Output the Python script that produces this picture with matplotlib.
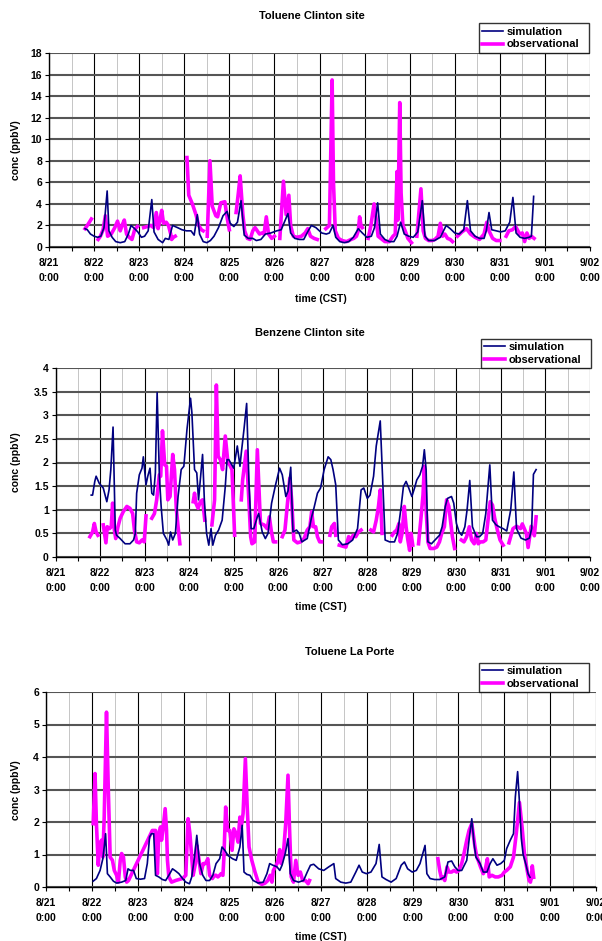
import numpy as np
import matplotlib
matplotlib.use("Agg")
import matplotlib.pyplot as plt
from matplotlib.ticker import MultipleLocator, FixedLocator

nan = np.nan

# ---------------- data (time in days since 8/21 0:00 CST) ----------------
day_labels = ["8/21\n0:00", "8/22\n0:00", "8/23\n0:00", "8/24\n0:00", "8/25\n0:00",
              "8/26\n0:00", "8/27\n0:00", "8/28\n0:00", "8/29\n0:00", "8/30\n0:00",
              "8/31\n0:00", "9/01\n0:00", "9/02\n0:00"]

# Toluene Clinton site
tol_cl_sim_t = [0.80, 0.85, 0.92, 1.00, 1.08, 1.15, 1.22, 1.29, 1.33, 1.40, 1.48, 1.58, 1.68, 1.76,
                1.82, 1.90, 1.97, 2.05, 2.12, 2.20, 2.28, 2.33, 2.42, 2.52, 2.58, 2.66, 2.74, 2.85,
                2.95, 3.05, 3.15, 3.22, 3.29, 3.34, 3.42, 3.50, 3.58, 3.66, 3.76, 3.86, 3.95, 4.02,
                4.10, 4.18, 4.26, 4.33, 4.42, 4.52, 4.60, 4.70, 4.80, 4.92, 5.05, 5.15, 5.22, 5.30,
                5.36, 5.45, 5.55, 5.65, 5.75, 5.82, 5.92, 6.05, 6.15, 6.22, 6.30, 6.36, 6.45, 6.55,
                6.65, 6.75, 6.86, 6.95, 7.05, 7.15, 7.22, 7.29, 7.35, 7.45, 7.55, 7.65, 7.72, 7.80,
                7.88, 7.98, 8.08, 8.18, 8.28, 8.34, 8.42, 8.55, 8.68, 8.81, 8.90, 9.00, 9.10, 9.20,
                9.28, 9.35, 9.45, 9.55, 9.65, 9.70, 9.76, 9.82, 9.92, 10.02, 10.12, 10.22, 10.29,
                10.36, 10.45, 10.55, 10.65, 10.70, 10.75]
tol_cl_sim_v = [1.7, 1.6, 1.2, 1.0, 0.9, 1.0, 1.8, 5.2, 1.5, 0.9, 0.5, 0.4, 0.5, 1.2,
                2.0, 1.7, 1.4, 0.9, 1.0, 1.5, 4.4, 1.4, 0.7, 0.4, 0.8, 0.7, 2.0, 1.8,
                1.6, 1.5, 1.5, 1.1, 3.0, 1.2, 0.5, 0.4, 0.6, 1.0, 1.8, 2.9, 3.3, 2.2,
                1.9, 2.3, 4.3, 1.1, 0.8, 0.8, 0.6, 0.7, 1.2, 1.3, 1.5, 1.6, 2.3, 3.1,
                1.3, 0.8, 0.7, 0.7, 1.5, 2.0, 1.8, 1.3, 1.2, 1.3, 2.0, 0.9, 0.5, 0.4,
                0.5, 0.9, 1.7, 1.3, 0.9, 1.0, 1.8, 4.1, 1.2, 0.7, 0.5, 0.5, 1.0, 2.3,
                1.2, 1.0, 0.9, 1.4, 4.3, 1.0, 0.6, 0.6, 0.9, 2.0, 1.7, 1.3, 1.2, 1.6,
                4.3, 1.5, 1.0, 0.8, 0.8, 1.5, 3.2, 1.6, 1.5, 1.4, 1.5, 2.3, 4.6,
                1.3, 0.9, 0.8, 0.9, 1.0, 4.7]
tol_cl_obs_t = [0.80, 0.85, 0.94, nan,
                1.09, 1.14, 1.20, 1.25, 1.30, 1.38, 1.46, 1.52, 1.58, 1.62, 1.67, 1.72, 1.78, 1.84,
                1.90, 1.96, nan,
                2.10, 2.18, 2.26, 2.32, 2.38, 2.42, 2.46, 2.50, 2.54, 2.60, 2.65, 2.70, 2.72, 2.76,
                2.80, nan,
                3.06, 3.10, 3.18, 3.26, 3.32, 3.38, 3.42, nan,
                3.51, 3.57, 3.62, 3.70, 3.74, 3.81, 3.90, 3.96, 4.00, nan,
                4.15, 4.20, 4.24, 4.30, 4.34, 4.40, 4.46, 4.52, 4.57, 4.62, 4.67, 4.72, 4.77, 4.82,
                4.87, 4.94, 5.00, nan,
                5.12, 5.20, 5.26, 5.32, 5.36, 5.42, 5.50, 5.60, 5.68, 5.74, 5.80, 5.88, 5.95, nan,
                6.14, 6.22, 6.28, 6.31, 6.35, 6.42, 6.50, 6.60, 6.70, 6.76, 6.82, 6.86, 6.89, 6.92,
                6.95, nan,
                7.08, 7.14, 7.21, 7.26, 7.30, 7.36, 7.45, 7.55, 7.63, 7.68, 7.72, 7.74, 7.78, 7.81,
                7.85, 7.90, 7.96, 8.04, nan,
                8.16, 8.25, 8.30, 8.35, 8.42, 8.50, 8.56, 8.63, 8.68, 8.73, 8.78, 8.84, 8.90, 8.95,
                nan,
                9.06, 9.16, 9.26, 9.35, 9.45, 9.55, 9.65, 9.71, 9.76, 9.84, 9.92, 10.00, nan,
                10.14, 10.20, 10.28, 10.35, 10.44, 10.50, 10.55, 10.60, 10.65, 10.70, 10.76]
tol_cl_obs_v = [1.7, 2.0, 2.6, nan,
                0.7, 1.0, 1.6, 2.9, 1.0, 1.2, 1.8, 2.4, 1.5, 2.0, 2.5, 1.2, 0.9, 0.7,
                1.6, 1.9, nan,
                1.8, 1.9, 2.0, 1.8, 3.2, 1.7, 2.5, 3.4, 2.2, 2.3, 2.0, 1.2, 0.7, 0.9,
                1.0, nan,
                8.3, 4.8, 4.0, 3.0, 2.0, 1.6, 1.5, nan,
                1.0, 8.0, 3.8, 2.9, 2.8, 4.1, 4.2, 2.5, 1.6, nan,
                3.2, 5.0, 6.6, 3.0, 1.5, 0.8, 0.7, 1.5, 1.8, 1.5, 1.2, 1.3, 1.2, 2.8,
                1.2, 0.8, 1.0, nan,
                0.8, 6.1, 3.0, 4.8, 2.0, 1.0, 0.9, 1.0, 1.3, 1.7, 1.0, 0.8, 0.7, nan,
                1.7, 2.0, 15.5, 6.0, 1.5, 0.8, 0.6, 0.5, 0.7, 0.8, 1.0, 1.5, 2.8, 2.0,
                1.8, nan,
                0.8, 2.0, 4.0, 2.5, 1.0, 0.8, 0.5, 0.5, 1.0, 1.2, 7.0, 2.5, 13.4, 5.0,
                2.0, 1.5, 0.8, 0.4, nan,
                1.0, 5.4, 1.5, 0.8, 0.6, 0.6, 0.7, 1.0, 2.2, 1.0, 1.2, 0.8, 0.7, 0.5,
                nan,
                1.0, 1.4, 1.7, 1.2, 0.9, 0.7, 1.2, 2.3, 1.5, 0.8, 0.6, 0.6, nan,
                1.0, 1.5, 1.6, 1.9, 1.2, 1.3, 0.5, 1.3, 0.8, 1.0, 0.8]

# Benzene Clinton site
benz_sim_t = [0.80, 0.83, 0.88, 0.91, 0.98, 1.07, 1.15, 1.20, 1.24, 1.29, 1.34, 1.37, 1.45, 1.56,
              1.67, 1.75, 1.79, 1.82, 1.88, 1.94, 1.97, 2.03, 2.07, 2.12, 2.16, 2.20, 2.24, 2.28,
              2.33, 2.37, 2.42, 2.50, 2.54, 2.58, 2.63, 2.69, 2.75, 2.82, 2.88, 2.95, 3.03, 3.06,
              3.12, 3.17, 3.21, 3.25, 3.30, 3.34, 3.39, 3.44, 3.49, 3.53, 3.59, 3.66, 3.74, 3.81,
              3.85, 3.89, 4.00, 4.08, 4.14, 4.17, 4.23, 4.29, 4.34, 4.39, 4.45, 4.53, 4.56, 4.64,
              4.71, 4.77, 4.85, 4.94, 5.03, 5.09, 5.17, 5.22, 5.28, 5.33, 5.41, 5.47, 5.53, 5.65,
              5.75, 5.80, 5.88, 5.95, 6.03, 6.12, 6.18, 6.23, 6.29, 6.35, 6.44, 6.56, 6.67, 6.78,
              6.86, 6.92, 7.00, 7.06, 7.14, 7.20, 7.29, 7.35, 7.40, 7.50, 7.61, 7.68, 7.76, 7.81,
              7.87, 7.93, 8.00, 8.06, 8.11, 8.18, 8.24, 8.28, 8.32, 8.36, 8.44, 8.55, 8.62, 8.68,
              8.75, 8.80, 8.89, 8.94, 9.00, 9.06, 9.12, 9.19, 9.24, 9.30, 9.36, 9.45, 9.52, 9.59,
              9.66, 9.75, 9.81, 9.89, 9.96, 10.05, 10.13, 10.22, 10.29, 10.35, 10.45, 10.55,
              10.64, 10.69, 10.73, 10.79]
benz_sim_v = [1.31, 1.31, 1.60, 1.71, 1.56, 1.46, 1.17, 1.42, 1.85, 2.75, 0.57, 0.46, 0.39, 0.28,
              0.28, 0.36, 0.50, 1.35, 1.74, 1.88, 2.12, 1.53, 1.71, 1.88, 1.35, 1.31, 1.78, 3.48,
              1.71, 1.07, 0.50, 0.36, 0.25, 0.53, 0.36, 0.50, 1.28, 1.85, 1.92, 2.70, 3.36, 3.06,
              1.85, 1.78, 1.21, 1.63, 2.17, 1.21, 0.50, 0.25, 0.60, 0.25, 0.46, 0.57, 0.78, 1.49,
              2.06, 2.06, 1.88, 2.35, 1.92, 2.20, 2.70, 3.25, 1.63, 0.60, 0.60, 0.85, 0.92, 0.53,
              0.39, 0.50, 1.14, 1.53, 1.88, 1.74, 1.28, 1.40, 1.90, 0.53, 0.57, 0.50, 0.32, 0.39,
              0.85, 1.03, 1.35, 1.46, 1.85, 2.12, 2.06, 1.85, 1.53, 0.36, 0.26, 0.28, 0.36, 0.60,
              1.42, 1.46, 1.24, 1.31, 1.71, 2.35, 2.88, 1.53, 0.36, 0.32, 0.32, 0.50, 1.07, 1.49,
              1.60, 1.46, 1.28, 1.46, 1.63, 1.74, 1.92, 2.27, 1.85, 0.32, 0.28, 0.39, 0.46, 0.64,
              1.07, 1.24, 1.28, 1.14, 0.71, 0.53, 0.46, 0.64, 1.00, 1.62, 0.64, 0.43, 0.43, 0.50,
              0.92, 1.95, 0.78, 0.68, 0.64, 0.60, 0.55, 1.00, 1.80, 0.60, 0.40, 0.36,
              0.40, 0.60, 1.75, 1.85]
benz_obs_t = [0.77, 0.83, 0.87, 0.91, 0.95, nan,
              1.07, 1.13, 1.16, 1.21, 1.25, 1.28, 1.32, 1.35, 1.40, 1.45, 1.52, 1.60, 1.67, 1.73,
              1.77, 1.82, 1.88, 1.94, 1.99, 2.03, nan,
              2.16, 2.22, 2.27, 2.33, 2.36, 2.40, 2.45, 2.49, 2.52, 2.57, 2.60, 2.63, 2.67, 2.71,
              2.75, 2.79, nan,
              3.09, 3.12, 3.15, 3.20, 3.25, 3.30, 3.35, nan,
              3.51, 3.57, 3.61, 3.65, 3.70, 3.75, 3.81, 3.87, 3.91, 3.96, 4.02, nan,
              4.17, 4.20, 4.28, 4.34, 4.38, 4.41, 4.47, 4.53, 4.60, 4.68, 4.75, 4.80, 4.84, 4.89,
              4.94, nan,
              5.09, 5.15, 5.20, 5.26, 5.30, 5.35, 5.43, 5.50, 5.58, 5.65, 5.71, 5.75, 5.79, 5.84,
              5.88, 5.93, 5.97, nan,
              6.16, 6.20, 6.26, 6.29, nan,
              6.37, 6.44, 6.52, 6.58, 6.63, 6.68, 6.74, 6.80, 6.86, nan,
              7.08, 7.14, 7.20, 7.25, 7.29, 7.33, nan,
              7.56, 7.61, 7.66, 7.71, 7.74, 7.78, 7.83, 7.87, 7.91, 7.95, 7.98, 8.02, nan,
              8.15, 8.20, 8.25, 8.28, 8.32, 8.36, 8.41, 8.49, 8.56, 8.62, 8.67, 8.73, 8.78, 8.83,
              8.87, 8.91, 8.96, nan,
              9.11, 9.17, 9.23, 9.29, 9.34, 9.40, 9.45, 9.49, 9.54, 9.60, 9.66, 9.71, 9.76, 9.81,
              9.86, 9.92, 9.98, 10.05, nan,
              10.18, 10.27, 10.35, 10.44, 10.48, 10.57, 10.61, 10.68, 10.75, 10.79]
benz_obs_v = [0.43, 0.53, 0.71, 0.53, 0.46, nan,
              0.68, 0.30, 0.64, 0.60, 0.64, 1.14, 0.57, 0.39, 0.64, 0.82, 0.96, 1.07, 1.03, 0.92,
              0.57, 0.32, 0.30, 0.36, 0.32, 0.87, nan,
              0.82, 0.92, 1.21, 1.74, 1.71, 2.67, 1.95, 1.92, 1.21, 1.28, 1.71, 2.17, 1.85, 1.03,
              0.64, 0.28, nan,
              1.17, 1.35, 1.14, 1.03, 1.17, 1.21, 0.78, nan,
              0.68, 1.21, 3.64, 2.13, 2.06, 1.85, 2.56, 1.99, 1.95, 1.85, 0.46, nan,
              1.21, 1.63, 2.24, 1.21, 0.43, 0.28, 0.32, 2.27, 0.71, 0.68, 0.60, 0.85, 0.57, 0.32,
              0.32, nan,
              0.43, 0.57, 1.07, 1.67, 1.21, 0.36, 0.30, 0.32, 0.39, 0.57, 0.64, 0.96, 0.64, 0.64,
              0.43, 0.32, 0.32, nan,
              0.46, 0.64, 0.71, 0.46, nan,
              0.25, 0.23, 0.21, 0.43, 0.36, 0.46, 0.43, 0.53, 0.57, nan,
              0.57, 0.53, 0.78, 1.07, 1.42, 0.50, nan,
              0.46, 0.53, 0.57, 0.71, 0.32, 0.50, 1.07, 0.64, 0.36, 0.14, 0.50, 0.25, nan,
              0.28, 0.78, 1.31, 1.92, 1.00, 0.32, 0.18, 0.18, 0.21, 0.32, 0.50, 0.64, 1.21, 1.07,
              0.75, 0.43, 0.18, nan,
              0.36, 0.32, 0.43, 0.64, 0.36, 0.28, 0.50, 0.28, 0.32, 0.32, 0.36, 0.78, 1.17, 1.10,
              0.82, 0.57, 0.36, 0.25, nan,
              0.30, 0.60, 0.65, 0.60, 0.70, 0.50, 0.20, 0.65, 0.45, 0.85]

# Toluene La Porte
tol_lp_sim_t = [1.03, 1.10, 1.18, 1.24, 1.27, 1.30, 1.34, 1.40, 1.47, 1.54, 1.65, 1.74, 1.79, 1.84,
                1.91, 1.97, 2.06, 2.15, 2.21, 2.26, 2.30, 2.35, 2.39, 2.46, 2.54, 2.61, 2.68, 2.76,
                2.83, 2.90, 2.98, 3.05, 3.13, 3.18, 3.24, 3.29, 3.35, 3.42, 3.49, 3.57, 3.64, 3.71,
                3.79, 3.84, 3.90, 3.97, 4.07, 4.15, 4.23, 4.28, 4.32, 4.38, 4.45, 4.52, 4.63, 4.74,
                4.82, 4.88, 4.95, 5.04, 5.10, 5.15, 5.22, 5.28, 5.33, 5.40, 5.51, 5.62, 5.70, 5.77,
                5.84, 5.95, 6.06, 6.17, 6.28, 6.32, 6.43, 6.54, 6.65, 6.76, 6.83, 6.90, 6.99, 7.09,
                7.20, 7.27, 7.33, 7.42, 7.53, 7.64, 7.75, 7.82, 7.89, 7.99, 8.08, 8.16, 8.22, 8.27,
                8.31, 8.38, 8.48, 8.59, 8.70, 8.77, 8.85, 8.92, 8.99, 9.07, 9.18, 9.23, 9.29, 9.34,
                9.38, 9.47, 9.54, 9.62, 9.69, 9.75, 9.84, 9.92, 10.00, 10.05, 10.13, 10.20, 10.24,
                10.29, 10.33, 10.37, 10.41, 10.47, 10.52, 10.56]
tol_lp_sim_v = [0.18, 0.26, 0.51, 0.87, 1.23, 1.64, 0.41, 0.31, 0.18, 0.12, 0.15, 0.20, 0.56, 0.51,
                0.51, 0.26, 0.24, 0.26, 0.72, 1.54, 1.64, 1.64, 0.36, 0.31, 0.23, 0.20, 0.36, 0.56,
                0.49, 0.41, 0.26, 0.15, 0.10, 0.31, 0.92, 1.59, 0.72, 0.36, 0.20, 0.20, 0.36, 0.72,
                0.87, 1.23, 1.13, 0.97, 0.87, 0.82, 1.23, 1.90, 0.46, 0.39, 0.36, 0.20, 0.12, 0.15,
                0.41, 0.72, 0.67, 0.62, 0.51, 0.67, 1.03, 1.49, 0.41, 0.20, 0.15, 0.20, 0.46, 0.67,
                0.70, 0.56, 0.51, 0.62, 0.72, 0.26, 0.15, 0.12, 0.15, 0.46, 0.67, 0.46, 0.41, 0.46,
                0.72, 1.31, 0.31, 0.23, 0.15, 0.26, 0.67, 0.77, 0.56, 0.46, 0.51, 0.72, 1.03, 1.28,
                0.41, 0.26, 0.23, 0.23, 0.31, 0.77, 0.80, 0.62, 0.51, 0.51, 0.82, 1.44, 2.10, 1.33,
                0.92, 0.72, 0.46, 0.46, 0.72, 0.87, 0.67, 0.72, 0.82, 1.18, 1.44, 1.64, 2.77,
                3.55, 2.60, 1.50, 1.00, 0.70, 0.40, 0.30]
tol_lp_obs_t = [1.03, 1.07, 1.10, 1.14, 1.18, 1.21, 1.24, 1.27, 1.32, 1.36, 1.40, 1.45, 1.49, 1.54,
                1.58, 1.62, 1.65, 1.69, 1.73, 1.76, 1.80, 2.32, 2.39, 2.43, 2.46, 2.50, 2.52, 2.55,
                2.60, 2.63, 2.65, 2.68, 2.74, 2.83, 2.90, 2.98, 3.05, 3.10, 3.14, 3.18, 3.21, 3.26,
                3.29, 3.33, 3.38, 3.43, 3.48, 3.53, 3.57, 3.63, 3.68, 3.71, 3.75, 3.79, 3.82, 3.86,
                3.88, 3.92, 3.96, 4.01, 4.06, 4.10, 4.15, 4.19, 4.23, 4.26, 4.30, 4.35, 4.39, 4.43,
                4.49, 4.56, 4.63, 4.71, 4.78, 4.84, 4.89, 4.93, 4.96, 5.04, 5.06, 5.10, 5.13, 5.18,
                5.23, 5.28, 5.31, 5.35, 5.40, 5.45, 5.50, 5.55, 5.60, 5.66, 5.72, 5.75, nan,
                8.55, 8.59, 8.63, 8.66, 8.70, 8.75, 8.79, 8.85, 8.90, 8.96, 9.01, 9.07, 9.12, 9.18,
                9.23, 9.29, 9.32, 9.36, 9.40, 9.43, 9.48, 9.54, 9.58, 9.63, 9.67, 9.73, 9.80, 9.87,
                9.95, 10.00, 10.05, 10.13, 10.20, 10.26, 10.33, 10.39, 10.44, 10.50, 10.54, 10.57,
                10.59, 10.61, 10.64]
tol_lp_obs_v = [1.95, 3.49, 1.95, 0.67, 1.33, 1.44, 0.92, 2.15, 5.38, 2.97, 0.92, 0.82, 0.51, 0.36,
                0.15, 0.82, 1.03, 0.92, 0.31, 0.15, 0.20, 1.74, 1.74, 0.41, 1.64, 1.85, 1.44, 1.74,
                2.41, 1.74, 0.82, 0.31, 0.15, 0.20, 0.23, 0.26, 0.36, 2.10, 1.64, 0.92, 0.36, 0.72,
                1.28, 0.92, 0.41, 0.72, 0.72, 0.87, 0.36, 0.26, 0.36, 0.36, 0.31, 0.36, 0.41, 0.36,
                0.87, 2.46, 1.74, 1.74, 1.13, 1.79, 1.64, 1.38, 2.15, 1.85, 2.26, 3.95, 2.46, 1.23,
                0.82, 0.46, 0.15, 0.08, 0.12, 0.20, 0.36, 0.15, 0.51, 0.72, 0.82, 1.15, 0.72, 1.03,
                1.95, 3.44, 1.95, 0.31, 0.15, 0.82, 0.36, 0.46, 0.20, 0.20, 0.10, 0.20, nan,
                0.87, 0.51, 0.26, 0.31, 0.20, 0.62, 0.46, 0.46, 0.51, 0.46, 0.51, 0.72, 1.03, 1.44,
                1.74, 1.95, 1.64, 1.23, 0.92, 0.82, 0.62, 0.41, 0.51, 0.87, 0.31, 0.36, 0.31, 0.31,
                0.36, 0.46, 0.51, 0.62, 0.92, 1.64, 2.60, 1.80, 1.00, 0.50, 0.20, 0.15,
                0.30, 0.65, 0.30]

panels = [
    dict(title="Toluene Clinton site", st=tol_cl_sim_t, sv=tol_cl_sim_v, ot=tol_cl_obs_t, ov=tol_cl_obs_v,
         ymax=18, ystep=2, box=(49, 53, 590, 247), title_xy=(312, 16), leg=(479, 23, 589, 53),
         ylab_y=150, xlab_y=299),
    dict(title="Benzene Clinton site", st=benz_sim_t, sv=benz_sim_v, ot=benz_obs_t, ov=benz_obs_v,
         ymax=4, ystep=0.5, box=(55.6, 368, 590, 557), title_xy=(310, 333), leg=(481, 339, 591, 368),
         ylab_y=462, xlab_y=607),
    dict(title="Toluene La Porte", st=tol_lp_sim_t, sv=tol_lp_sim_v, ot=tol_lp_obs_t, ov=tol_lp_obs_v,
         ymax=6, ystep=1, box=(46, 692, 596, 887), title_xy=(350, 652), leg=(479, 662, 589, 693),
         ylab_y=790, xlab_y=937),
]

# ---------------- drawing ----------------
W, H = 602, 941
plt.rcParams['font.family'] = ['Liberation Sans', 'DejaVu Sans']
plt.rcParams['font.weight'] = 'bold'
fig = plt.figure(figsize=(W / 100, H / 100), dpi=100)

def fx(x):
    return x / W

def fy(y):
    return 1 - y / H

for p in panels:
    x0, y0, x1, y1 = p['box']
    ax = fig.add_axes([fx(x0), fy(y1), fx(x1) - fx(x0), fy(y0) - fy(y1)])
    ax.set_xlim(0, 12)
    ax.set_ylim(0, p['ymax'])
    ax.xaxis.set_major_locator(FixedLocator(list(range(13))))
    ax.xaxis.set_minor_locator(MultipleLocator(0.5))
    ax.set_xticklabels(day_labels, fontsize=7.5, fontweight='bold', linespacing=1.6)
    yt = np.arange(0, p['ymax'] + 1e-9, p['ystep'])
    ax.set_yticks(yt)
    ax.set_yticklabels(["%g" % v for v in yt], fontsize=7.5, fontweight='bold')
    ax.tick_params(axis='x', which='both', direction='out', length=3, width=0.8, pad=5)
    ax.tick_params(axis='y', which='major', direction='out', length=3, width=0.8, pad=2)
    for s in ['top', 'right']:
        ax.spines[s].set_visible(False)
    for s in ['left', 'bottom']:
        ax.spines[s].set_linewidth(1.0)
        ax.spines[s].set_zorder(5)
    # grid
    ax.grid(True, axis='y', which='major', color='#555555', linewidth=1.5, linestyle='-')
    ax.grid(True, axis='x', which='major', color='black', linewidth=0.8, linestyle='-')
    ax.grid(True, axis='x', which='minor', color='#777777', linewidth=0.6, linestyle=(0, (1.2, 1.2)))
    ax.set_axisbelow(True)
    l1, = ax.plot(p['st'], p['sv'], color='#000080', linewidth=1.2, label='simulation', zorder=3)
    l2, = ax.plot(p['ot'], p['ov'], color='#FF00FF', linewidth=2.6, label='observational', zorder=2)
    # title, labels
    fig.text(fx(p['title_xy'][0]), fy(p['title_xy'][1]), p['title'], ha='center', va='center',
             fontsize=8, fontweight='bold')
    fig.text(fx(16), fy(p['ylab_y']), 'conc (ppbV)', rotation=90, ha='center', va='center',
             fontsize=7.5, fontweight='bold')
    fig.text(fx(321), fy(p['xlab_y']), 'time (CST)', ha='center', va='center',
             fontsize=7.5, fontweight='bold')
    lx0, ly0, lx1, ly1 = p['leg']
    leg = fig.legend(handles=[l1, l2], loc='center',
                     bbox_to_anchor=(fx(lx0), fy(ly1), fx(lx1) - fx(lx0), fy(ly0) - fy(ly1)),
                     mode='expand', frameon=True, fancybox=False,
                     handlelength=1.9, handletextpad=0.3, borderpad=0.3, labelspacing=0.25,
                     borderaxespad=0.0, prop={'weight': 'bold', 'size': 8})
    leg.get_frame().set_edgecolor('black')
    leg.get_frame().set_linewidth(1.0)

fig.savefig('out.png', dpi=100)
